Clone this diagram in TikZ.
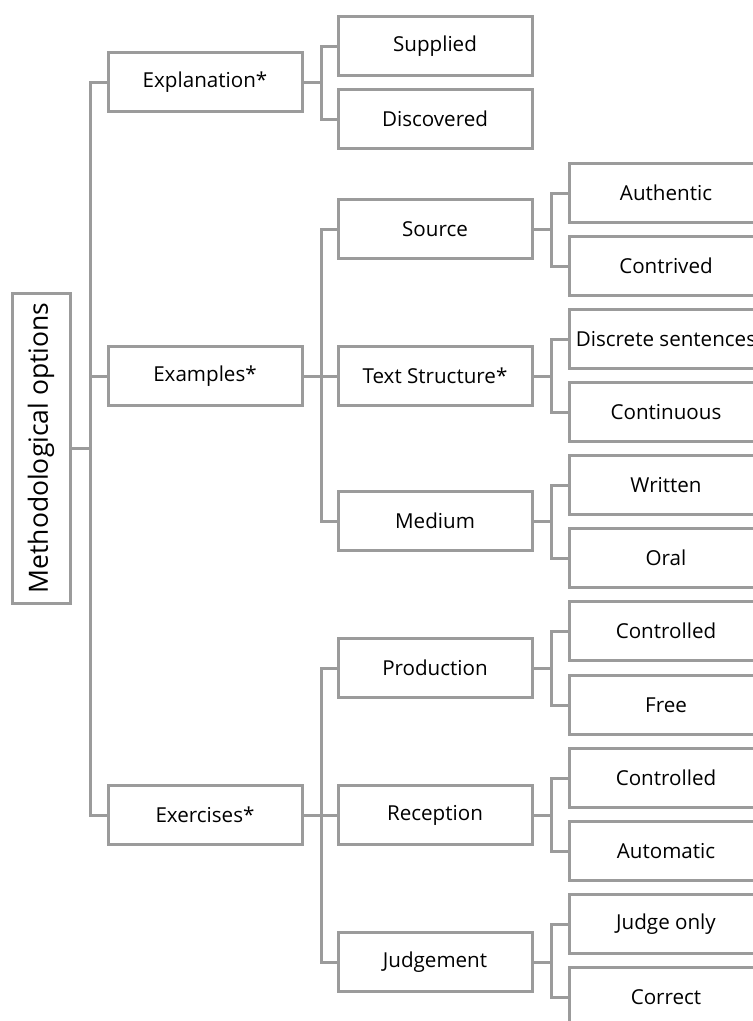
\documentclass[tikz,border=0pt]{standalone}
\usepackage{fontspec}
\setmainfont{Open Sans}
\usetikzlibrary{positioning}

\definecolor{linegray}{RGB}{155,155,155}

\begin{document}
\begin{tikzpicture}[
  x=1pt, y=-1pt,
  box/.style={draw=linegray, line width=3pt, minimum width=194pt, minimum height=59pt,
    inner sep=0pt, font=\fontsize{20.6}{24}\selectfont},
  link/.style={draw=linegray, line width=3pt}
]

% page frame, the outer boxes run past it
\clip (0,0) rectangle (753,1021);

% root and first level
\node[box, rotate=90, minimum width=310pt, minimum height=58pt,
  font=\fontsize{26.5}{30}\selectfont] (root) at (41,448) {Methodological options};
\node[box] (expl) at (205,82) {Explanation*};
\node[box] (exam) at (205,376) {Examples*};
\node[box] (exer) at (205,815) {Exercises*};

% second level
\node[box] (supp) at (435,46) {Supplied};
\node[box] (disc) at (435,119) {Discovered};
\node[box] (src) at (435,229) {Source};
\node[box] (tstr) at (435,376) {Text Structure*};
\node[box] (med) at (435,521) {Medium};
\node[box] (prod) at (435,668) {Production};
\node[box] (recp) at (435,815) {Reception};
\node[box] (judg) at (435,962) {Judgement};

% third level
\node[box] (auth) at (666,193) {Authentic};
\node[box] (cont) at (666,266) {Contrived};
\node[box] (dsen) at (666,339) {Discrete sentences};
\node[box] (ctns) at (666,412) {Continuous};
\node[box] (writ) at (666,485) {Written};
\node[box] (oral) at (666,558) {Oral};
\node[box] (pcon) at (666,631) {Controlled};
\node[box] (free) at (666,705) {Free};
\node[box] (rcon) at (666,778) {Controlled};
\node[box] (auto) at (666,851) {Automatic};
\node[box] (jonl) at (666,924) {Judge only};
\node[box] (corr) at (666,997) {Correct};

% elbow connectors
\foreach \c in {expl,exam,exer}
  \draw[link] (root.south) -- ++(19,0) |- (\c.west);
\foreach \c in {supp,disc}
  \draw[link] (expl.east) -- ++(18,0) |- (\c.west);
\foreach \c in {src,tstr,med}
  \draw[link] (exam.east) -- ++(18,0) |- (\c.west);
\foreach \c in {prod,recp,judg}
  \draw[link] (exer.east) -- ++(18,0) |- (\c.west);
\foreach \p/\a/\b in {src/auth/cont, tstr/dsen/ctns, med/writ/oral,
                      prod/pcon/free, recp/rcon/auto, judg/jonl/corr} {
  \draw[link] (\p.east) -- ++(18,0) |- (\a.west);
  \draw[link] (\p.east) -- ++(18,0) |- (\b.west);
}

\end{tikzpicture}
\end{document}
